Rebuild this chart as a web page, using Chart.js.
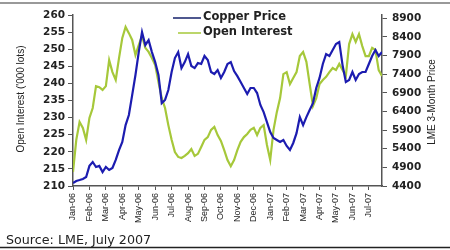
<!DOCTYPE html>
<html>
<head>
<meta charset="utf-8">
<script src="https://cdn.jsdelivr.net/npm/chart.js@4.4.0/dist/chart.umd.min.js"></script>
<style>
  body { margin: 0; background: #fff; }
  #wrap { width: 450px; height: 250px; }
</style>
</head>
<body>
<div id="wrap"><canvas id="chart" width="450" height="250"></canvas></div>
<script>
// month tick labels (one every 5 points)
const months = ['Jan-06', 'Feb-06', 'Mar-06', 'Apr-06', 'May-06', 'Jun-06', 'Jul-06', 'Aug-06', 'Sep-06',
    'Oct-06', 'Nov-06', 'Dec-06', 'Jan-07', 'Feb-07', 'Mar-07', 'Apr-07', 'May-07', 'Jun-07', 'Jul-07'];

// right axis tick values
const priceTicks = [4400, 4900, 5400, 5900, 6400, 6900, 7400, 7900, 8400, 8900];

// Open interest ('000 lots), left axis
const openInterest = [
    214.1, 223.5, 228.7, 227.0, 223.5, 229.9, 232.8, 239.2, 238.9, 238.1,
    239.2, 246.8, 243.3, 241.0, 247.4, 253.3, 256.5, 254.7, 252.7, 248.3,
    251.2, 253.9, 250.4, 249.2, 247.4, 245.4, 240.4, 235.7, 232.8, 227.8,
    223.5, 219.9, 218.5, 218.2, 218.8, 219.6, 220.8, 218.8, 219.4, 221.4,
    223.5, 224.3, 226.4, 227.3, 224.9, 223.2, 220.5, 217.6, 215.8, 217.6,
    220.5, 222.9, 224.3, 225.2, 226.4, 227.0, 224.9, 227.0, 227.8, 222.0,
    217.6, 226.4, 231.6, 235.7, 242.7, 243.3, 239.8, 241.6, 243.3, 248.0,
    249.2, 246.3, 239.8, 233.4, 235.7, 239.8, 241.0, 241.9, 243.3, 244.5,
    243.9, 245.7, 243.9, 242.2, 251.5, 254.4, 252.1, 254.4, 250.9, 248.0,
    248.0, 250.4, 249.8, 243.9, 242.2
];

// LME 3-month copper price, right axis
const copperPrice = [
    4480, 4535, 4560, 4590, 4640, 4940, 5045, 4910, 4940, 4775,
    4910, 4830, 4885, 5100, 5365, 5580, 6035, 6305, 6840, 7380,
    7995, 8530, 8185, 8315, 7995, 7725, 7380, 6625, 6710, 6975,
    7460, 7835, 7995, 7565, 7725, 7940, 7620, 7565, 7700, 7675,
    7890, 7780, 7460, 7405, 7510, 7300, 7460, 7675, 7725, 7485,
    7350, 7190, 7030, 6870, 7030, 7030, 6895, 6575, 6385, 6115,
    5850, 5690, 5635, 5580, 5635, 5475, 5365, 5555, 5820, 6250,
    6035, 6250, 6440, 6625, 7030, 7300, 7675, 7940, 7890, 8050,
    8210, 8265, 7645, 7190, 7245, 7460, 7245, 7405, 7460, 7460,
    7675, 7890, 8050, 7890, 7995
];

const blue = '#1c1cb0';
const green = '#a6c83a';
const axisColour = '#555';

// legend, axis titles, source note and frame lines
const extras = {
    id: 'extras',
    afterDraw(chart) {
        const ctx = chart.ctx;
        ctx.save();
        // frame lines
        ctx.strokeStyle = '#999';
        ctx.lineWidth = 2;
        ctx.beginPath(); ctx.moveTo(0, 3); ctx.lineTo(450, 3); ctx.stroke();
        ctx.strokeStyle = '#222';
        ctx.lineWidth = 1.5;
        ctx.beginPath(); ctx.moveTo(0, 247.5); ctx.lineTo(450, 247.5); ctx.stroke();

        // legend
        ctx.lineWidth = 1.5;
        ctx.strokeStyle = '#14206a';
        ctx.beginPath(); ctx.moveTo(173, 18); ctx.lineTo(201, 18); ctx.stroke();
        ctx.strokeStyle = green;
        ctx.beginPath(); ctx.moveTo(178, 33); ctx.lineTo(201, 33); ctx.stroke();
        ctx.fillStyle = '#222';
        ctx.font = 'bold 11.5px "DejaVu Sans"';
        ctx.textBaseline = 'middle';
        ctx.textAlign = 'left';
        ctx.fillText('Copper Price', 203, 17);
        ctx.fillText('Open Interest', 203, 32);

        // axis titles, both read bottom to top
        ctx.font = '10px "Liberation Sans"';
        ctx.textAlign = 'center';
        ctx.save();
        ctx.translate(21, 99);
        ctx.rotate(-Math.PI / 2);
        ctx.fillText("Open Interest ('000 lots)", 0, 0);
        ctx.restore();
        ctx.save();
        ctx.translate(432, 102);
        ctx.rotate(-Math.PI / 2);
        ctx.fillText('LME 3-Month Price', 0, 0);
        ctx.restore();

        // source
        ctx.font = '12.7px "DejaVu Sans"';
        ctx.textAlign = 'left';
        ctx.fillText('Source: LME, July 2007', 6, 241);
        ctx.restore();
    }
};

new Chart(document.getElementById('chart'), {
    type: 'line',
    data: {
        labels: openInterest.map((v, i) => i),
        datasets: [{
            label: 'Copper Price',
            data: copperPrice,
            yAxisID: 'y2',
            borderColor: blue,
            borderWidth: 2.2,
            pointRadius: 0,
            tension: 0
        }, {
            label: 'Open Interest',
            data: openInterest,
            yAxisID: 'y',
            borderColor: green,
            borderWidth: 2.2,
            pointRadius: 0,
            tension: 0
        }]
    },
    options: {
        responsive: false,
        animation: false,
        layout: { padding: { top: 15, left: 0, right: 0, bottom: 0 } },
        plugins: {
            legend: { display: false },
            tooltip: { enabled: false }
        },
        scales: {
            x: {
                type: 'linear',
                min: 0,
                max: 94,
                afterFit: s => { s.height = 64; },
                border: { color: axisColour, width: 1.5 },
                grid: { drawOnChartArea: false, tickLength: 4, color: axisColour },
                ticks: {
                    stepSize: 5,
                    autoSkip: false,
                    maxRotation: 90,
                    minRotation: 90,
                    padding: 3,
                    color: '#222',
                    font: { family: 'Liberation Sans', size: 9 },
                    callback: v => months[v / 5]
                }
            },
            y: {
                position: 'left',
                min: 210,
                max: 260,
                afterFit: s => { s.width = 73; },
                border: { color: axisColour, width: 1.5 },
                grid: { drawOnChartArea: false, tickLength: 5, color: axisColour },
                ticks: {
                    stepSize: 5,
                    padding: 3,
                    color: '#222',
                    font: { family: 'DejaVu Sans', size: 10.5, weight: 'bold' }
                }
            },
            y2: {
                position: 'right',
                min: 4400,
                max: 8990,
                afterFit: s => { s.width = 68; },
                afterBuildTicks: s => { s.ticks = priceTicks.map(v => ({ value: v })); },
                border: { color: axisColour, width: 1.5 },
                grid: { drawOnChartArea: false, tickLength: 5, color: axisColour },
                ticks: {
                    padding: 5,
                    color: '#222',
                    font: { family: 'DejaVu Sans', size: 10.5, weight: 'bold' },
                    callback: v => String(v)
                }
            }
        }
    },
    plugins: [extras]
});
</script>
</body>
</html>
